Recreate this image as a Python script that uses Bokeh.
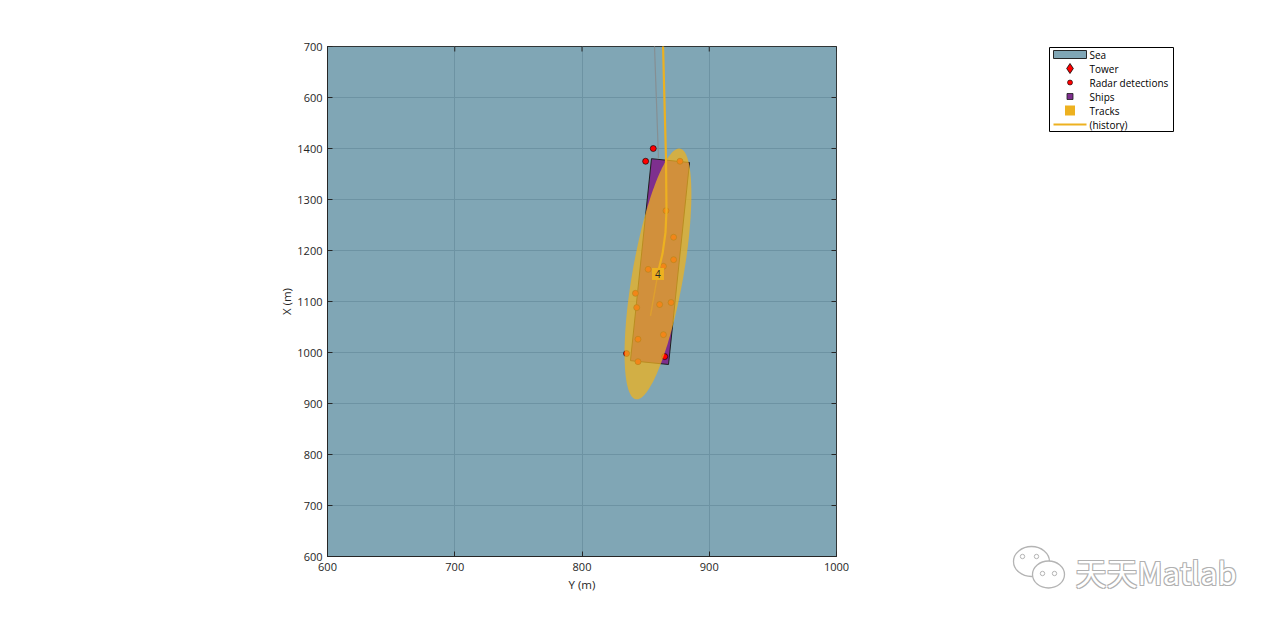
import numpy as np
from bokeh.plotting import figure
from bokeh.layouts import row
from bokeh.models import FixedTicker, Label, Range1d
from bokeh.embed import file_html
from bokeh.resources import INLINE
from bokeh.core.properties import value

# ---------------- data ----------------
X_RANGE = (600, 1000)
Y_RANGE = (600, 1600)
X_TICKS = [600, 700, 800, 900, 1000]
X_TICK_LABELS = ["600", "700", "800", "900", "1000"]
Y_TICKS = [600, 700, 800, 900, 1000, 1100, 1200, 1300, 1400, 1500, 1600]
Y_TICK_LABELS = ["600", "700", "800", "900", "1000", "1100", "1200", "1300", "1400", "600", "700"]

# radar detections
DET_X = [856, 850, 877, 866, 872, 872, 852, 864, 842, 843, 861, 870, 844, 864, 835, 844, 865]
DET_Y = [1400, 1375, 1375, 1278, 1226, 1182, 1163, 1169, 1116, 1088, 1094, 1098, 1026, 1035, 998, 982, 992]

# ship outline (corners) and ship position
SHIP_X = [854.6, 884.5, 868.0, 838.1]
SHIP_Y = [1380.0, 1372.5, 976.5, 984.0]
SHIP_POS_X = [861.3]
SHIP_POS_Y = [1178.0]

# ship truth trajectory
TRUTH_X = [856.7, 858.5, 860.1]
TRUTH_Y = [1620, 1494, 1380]

# track
TRACK_X = [859.7]
TRACK_Y = [1154.0]
TRACK_LABELS = ["4"]
TRACK_SEMI_MAJOR = 100.0   # m
TRACK_SEMI_MINOR = 20.0    # m
TRACK_TILT_DEG = 10.0      # from vertical
HIST_X = [863.5, 864.8, 866.0, 866.4, 865.6, 863.3, 860.1]
HIST_Y = [1620, 1494, 1382, 1278, 1235, 1194, 1161]
HIST_TAIL_X = [860.1, 853.8]
HIST_TAIL_Y = [1161, 1072]

# tower (outside the view)
TOWER_X = [0.0]
TOWER_Y = [0.0]

LEGEND_LABELS = ["Sea", "Tower", "Radar detections", "Ships", "Tracks", "(history)"]
WATERMARK = "天天Matlab"

# ---------------- style ----------------
SEA = "#80a6b5"
GRID = "#6d93a3"
PURPLE = "#7e2f8e"
TRACK_COLOR = "#edb120"
DET_COLOR = "#ff0000"
AX = "#262626"
FONT = "Open Sans"

TOTAL_W, TOTAL_H = 1264, 605
FW, FH = 509, 510
LEFT, TOP, RIGHT = 327, 46, 13
BOTTOM = TOTAL_H - TOP - FH
MAIN_W = LEFT + FW + RIGHT
SIDE_W = TOTAL_W - MAIN_W

p = figure(frame_width=FW, frame_height=FH,
           min_border_left=LEFT, min_border_right=RIGHT, min_border_top=TOP, min_border_bottom=BOTTOM,
           x_range=Range1d(*X_RANGE), y_range=Range1d(*Y_RANGE),
           output_backend="svg", toolbar_location=None,
           background_fill_color=SEA, border_fill_color="white")
p.outline_line_color = AX
p.outline_line_width = 1

for g, t in ((p.xgrid, X_TICKS), (p.ygrid, Y_TICKS)):
    g.ticker = FixedTicker(ticks=t)
    g.grid_line_color = GRID
    g.grid_line_width = 1

p.xaxis.ticker = FixedTicker(ticks=X_TICKS)
p.xaxis.major_label_overrides = {t: l for t, l in zip(X_TICKS, X_TICK_LABELS)}
p.yaxis.ticker = FixedTicker(ticks=Y_TICKS)
p.yaxis.major_label_overrides = {t: l for t, l in zip(Y_TICKS, Y_TICK_LABELS)}
p.xaxis.axis_label = "Y (m)"
p.yaxis.axis_label = "X (m)"
for ax in (p.xaxis, p.yaxis):
    ax.axis_line_color = AX
    ax.major_tick_line_color = AX
    ax.major_tick_in = 5
    ax.major_tick_out = 0
    ax.minor_tick_line_color = None
    ax.major_label_text_font = FONT
    ax.major_label_text_font_size = "11px"
    ax.major_label_text_color = AX
    ax.axis_label_text_font = FONT
    ax.axis_label_text_font_size = "11.5px"
    ax.axis_label_text_font_style = "normal"
    ax.axis_label_text_color = AX
p.xaxis.major_label_standoff = 6
p.xaxis.axis_label_standoff = 3
p.yaxis.major_label_standoff = 5
p.yaxis.axis_label_standoff = 0

# sea patch
p.quad(left=[X_RANGE[0]], right=[X_RANGE[1]], bottom=[Y_RANGE[0]], top=[Y_RANGE[1]],
       fill_color=SEA, line_color=AX, line_width=1, level="image")

# tick marks on the top and right edges (box on)
xpx = (X_RANGE[1] - X_RANGE[0]) / FW
ypx = (Y_RANGE[1] - Y_RANGE[0]) / FH
p.segment(x0=X_TICKS, y0=[Y_RANGE[1]] * len(X_TICKS), x1=X_TICKS,
          y1=[Y_RANGE[1] - 5 * ypx] * len(X_TICKS), line_color=AX, line_width=1)
p.segment(x0=[X_RANGE[1]] * len(Y_TICKS), y0=Y_TICKS, x1=[X_RANGE[1] - 5 * xpx] * len(Y_TICKS),
          y1=Y_TICKS, line_color=AX, line_width=1)

# tower (off view)
p.scatter(TOWER_X, TOWER_Y, marker="diamond", size=10, fill_color=DET_COLOR, line_color="black")

# ship marker and ship outline
p.scatter(SHIP_POS_X, SHIP_POS_Y, marker="square", size=6, fill_color=PURPLE, line_color="#1a1a1a")
p.patch(SHIP_X, SHIP_Y, fill_color=PURPLE, line_color="#1f1f1f", line_width=1)

# truth trajectory
p.line(TRUTH_X, TRUTH_Y, line_color="#858f93", line_width=1.2)

# detections
p.scatter(DET_X, DET_Y, marker="circle", size=6, fill_color=DET_COLOR, line_color="black", line_width=0.6)

# track covariance ellipse
ys_per_xs = ypx / xpx
t = np.linspace(0, 2 * np.pi, 240)
th = np.deg2rad(TRACK_TILT_DEG)
u = TRACK_SEMI_MAJOR * np.cos(t)
w = TRACK_SEMI_MINOR * np.sin(t)
ex = TRACK_X[0] + u * np.sin(th) + w * np.cos(th)
ey = TRACK_Y[0] + (u * np.cos(th) - w * np.sin(th)) * ys_per_xs
p.patch(ex, ey, fill_color=TRACK_COLOR, fill_alpha=0.75, line_color=None)

# track history
p.line(HIST_X, HIST_Y, line_color=TRACK_COLOR, line_width=2.2)
p.line(HIST_TAIL_X, HIST_TAIL_Y, line_color=TRACK_COLOR, line_width=1.5, line_alpha=0.45)

# track marker + label
p.scatter(TRACK_X, TRACK_Y, marker="square", size=12, fill_color=TRACK_COLOR, line_color=None)
p.text(TRACK_X, TRACK_Y, text=TRACK_LABELS, text_align="center", text_baseline="middle",
       text_font=value(FONT), text_font_size="10px", text_color=AX)

# ---------------- side panel: legend + watermark (pixel units) ----------------
SIDE_FH = TOTAL_H - TOP
s = figure(frame_width=SIDE_W, frame_height=SIDE_FH, min_border_left=0, min_border_right=0,
           min_border_top=TOP, min_border_bottom=0,
           x_range=Range1d(0, SIDE_W), y_range=Range1d(0, SIDE_FH),
           x_axis_type=None, y_axis_type=None, output_backend="svg", toolbar_location=None,
           background_fill_color="white", border_fill_color="white")
s.outline_line_color = None
s.grid.visible = False


def sx(px):   # page x -> side x
    return px - MAIN_W


def sy(py):   # page y -> side y
    return TOTAL_H - py


# legend box
LG_L, LG_R, LG_T, LG_B = 1049, 1173, 47, 131
ROW_H = (LG_B - LG_T) / len(LEGEND_LABELS)
rows_y = [sy(LG_T + ROW_H * (i + 0.5)) for i in range(len(LEGEND_LABELS))]
G_L, G_R = 1053, 1086
gx = sx((G_L + G_R) / 2)
s.quad(left=[sx(LG_L)], right=[sx(LG_R)], top=[sy(LG_T)], bottom=[sy(LG_B)],
       fill_color="white", line_color="black", line_width=1)
# Sea swatch
s.quad(left=[sx(G_L)], right=[sx(G_R)], top=[rows_y[0] + 4], bottom=[rows_y[0] - 4],
       fill_color=SEA, line_color=AX, line_width=1)
# Tower
s.scatter([gx], [rows_y[1]], marker="diamond", size=10, fill_color=DET_COLOR, line_color="black", line_width=0.8)
# Radar detections
s.scatter([gx], [rows_y[2]], marker="circle", size=5, fill_color=DET_COLOR, line_color="black", line_width=0.6)
# Ships
s.scatter([gx], [rows_y[3]], marker="square", size=6, fill_color=PURPLE, line_color="#1a1a1a", line_width=0.8)
# Tracks
s.scatter([gx], [rows_y[4]], marker="square", size=10, fill_color=TRACK_COLOR, line_color=None)
# (history)
s.line([sx(G_L), sx(G_R)], [rows_y[5], rows_y[5]], line_color=TRACK_COLOR, line_width=2)
s.text([sx(G_R + 3)] * len(LEGEND_LABELS), rows_y, text=LEGEND_LABELS, text_align="left",
       text_baseline="middle", text_font=value(FONT), text_font_size="10px", text_color="black")

# watermark
WX, WY = sx(1075), sy(571)
for dx, dy in ((-1, -1), (-1, 1), (1, -1), (1, 1)):
    s.add_layout(Label(x=WX + dx, y=WY + dy, text=WATERMARK, text_font="Noto Sans CJK SC",
                       text_font_size="31px", text_color="#b0b0b0", text_baseline="alphabetic"))
s.add_layout(Label(x=WX, y=WY, text=WATERMARK, text_font="Noto Sans CJK SC",
                   text_font_size="31px", text_color="#ffffff", text_baseline="alphabetic"))

s.ellipse(x=[sx(1031), sx(1048)], y=[sy(561), sy(574)], width=[36, 32], height=[30, 27],
          fill_color="white", line_color="#b4b4b4", line_width=1.3)
s.circle(x=[sx(1022), sx(1036), sx(1042), sx(1054)], y=[sy(556), sy(556), sy(573), sy(573)], radius=2.2,
         fill_color="white", line_color="#b4b4b4", line_width=1)

layout = row(p, s, spacing=0)
open("out.html", "w").write(file_html(layout, INLINE))
